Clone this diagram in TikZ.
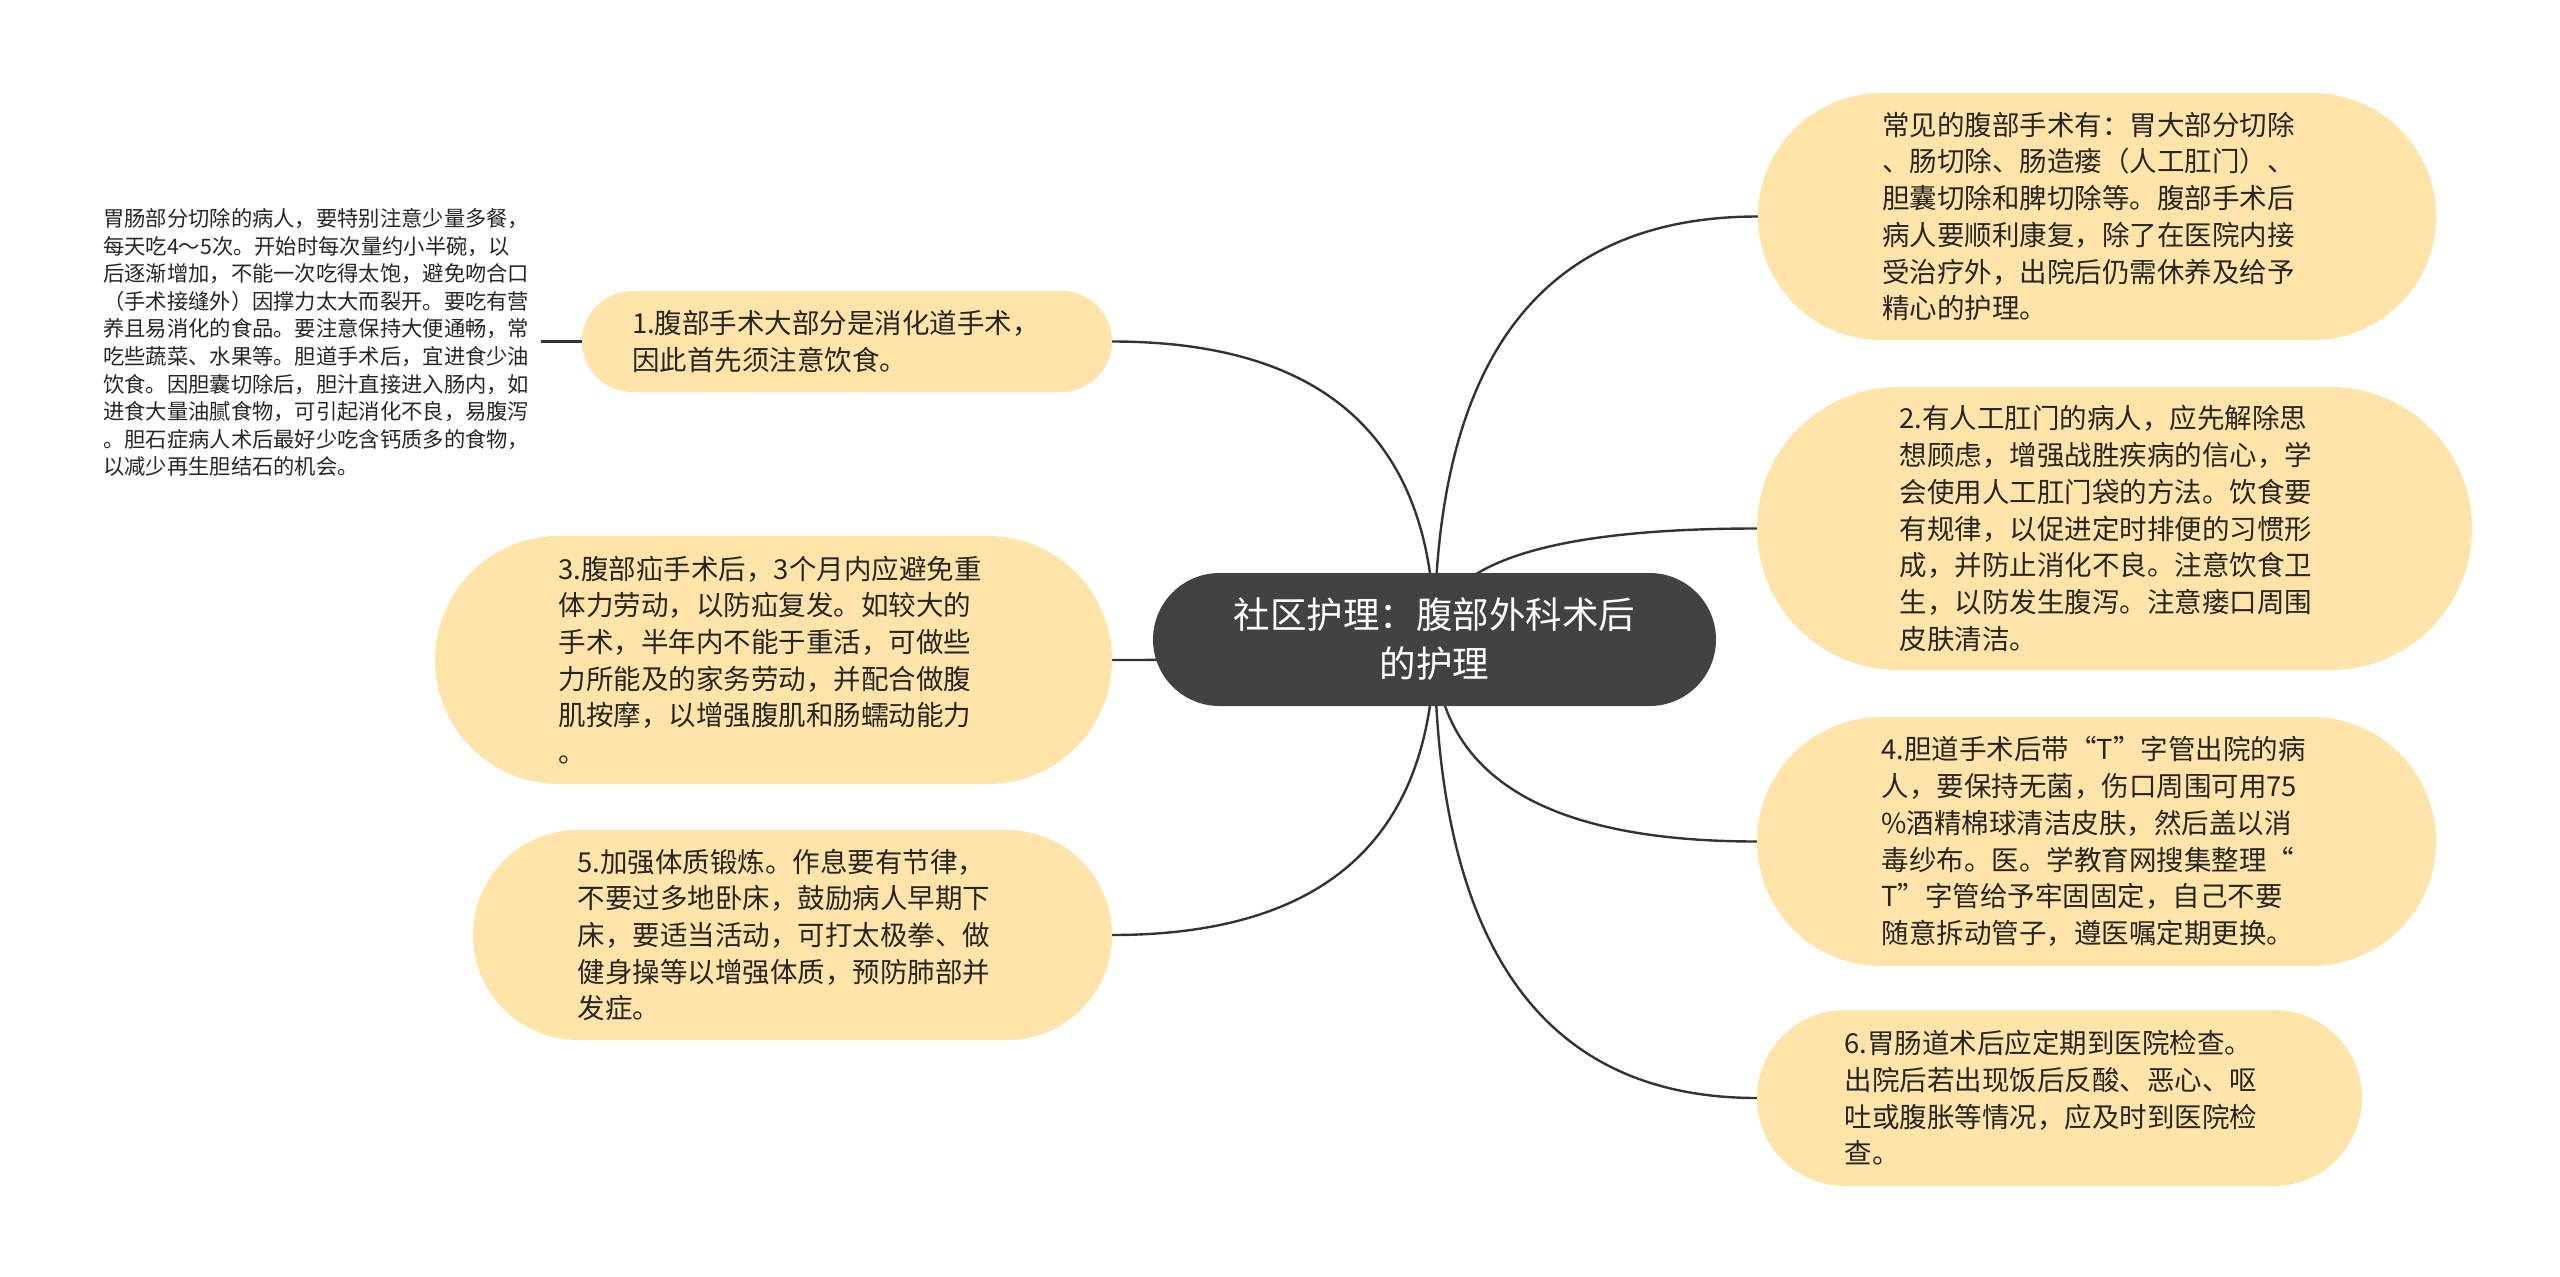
\documentclass[tikz,border=0pt]{standalone}
\usepackage{fontspec}
\newfontfamily\cjk{Noto Sans CJK SC}
\usetikzlibrary{calc}
\definecolor{leaf}{RGB}{254,228,168}
\definecolor{hub}{RGB}{66,66,66}
\definecolor{ink}{RGB}{38,38,38}
\definecolor{wire}{RGB}{51,51,51}
\pgfdeclarelayer{bg}
\pgfsetlayers{bg,main}
\tikzset{
  leafbox/.style={draw=none, fill=leaf, text=ink, align=left, text width=430pt,
    inner sep=0pt, font=\cjk\fontsize{27.5}{36.7}\selectfont},
  hubbox/.style={draw=none, fill=hub, text=white, align=center, inner sep=0pt,
    font=\cjk\fontsize{36.5}{49}\selectfont},
  notebox/.style={text=ink, align=left, text width=430pt, inner sep=8pt,
    font=\cjk\fontsize{21.3}{27.6}\selectfont},
  wirestyle/.style={draw=wire, line width=2.4pt},
}
\newcommand\quadlink[2]{%
  \draw[wirestyle] (#1.center) .. controls ($(#1.center)!0.6667!(#1.center|-#2)$)
    and ($(#2)!0.6667!(#1.center|-#2)$) .. (#2);}
\begin{document}
\begin{tikzpicture}[x=1pt,y=-1pt]
\useasboundingbox (0,0) rectangle (2560,1277);

% central topic
\node[hubbox, minimum width=563pt, minimum height=133pt, rounded corners=66.5pt]
  (c) at (1434.5,639.5) {社区护理：腹部外科术后\\的护理};

% left branches
\node[leafbox, minimum width=530pt, minimum height=101pt, rounded corners=50.5pt]
  (n1) at (847,341.5) {1.腹部手术大部分是消化道手术，\\因此首先须注意饮食。};

\node[leafbox, minimum width=677pt, minimum height=248pt, rounded corners=124pt]
  (n3) at (773.5,660) {3.腹部疝手术后，3个月内应避免重\\体力劳动，以防疝复发。如较大的\\手术，半年内不能于重活，可做些\\力所能及的家务劳动，并配合做腹\\肌按摩，以增强腹肌和肠蠕动能力\\。};

\node[leafbox, minimum width=639pt, minimum height=210pt, rounded corners=105pt]
  (n5) at (792.5,935) {5.加强体质锻炼。作息要有节律，\\不要过多地卧床，鼓励病人早期下\\床，要适当活动，可打太极拳、做\\健身操等以增强体质，预防肺部并\\发症。};

% detached note of branch 1
\node[notebox, anchor=west] (d) at (95,342.5) {胃肠部分切除的病人，要特别注意少量多餐，\\每天吃4～5次。开始时每次量约小半碗，以\\后逐渐增加，不能一次吃得太饱，避免吻合口\\（手术接缝外）因撑力太大而裂开。要吃有营\\养且易消化的食品。要注意保持大便通畅，常\\吃些蔬菜、水果等。胆道手术后，宜进食少油\\饮食。因胆囊切除后，胆汁直接进入肠内，如\\进食大量油腻食物，可引起消化不良，易腹泻\\。胆石症病人术后最好少吃含钙质多的食物，\\以减少再生胆结石的机会。};

% right branches
\node[leafbox, minimum width=678pt, minimum height=247pt, rounded corners=123.5pt]
  (n0) at (2097,216.5) {常见的腹部手术有：胃大部分切除\\、肠切除、肠造瘘（人工肛门）、\\胆囊切除和脾切除等。腹部手术后\\病人要顺利康复，除了在医院内接\\受治疗外，出院后仍需休养及给予\\精心的护理。};

\node[leafbox, minimum width=715pt, minimum height=283pt, rounded corners=141.5pt]
  (n2) at (2114.5,528.5) {2.有人工肛门的病人，应先解除思\\想顾虑，增强战胜疾病的信心，学\\会使用人工肛门袋的方法。饮食要\\有规律，以促进定时排便的习惯形\\成，并防止消化不良。注意饮食卫\\生，以防发生腹泻。注意瘘口周围\\皮肤清洁。};

\node[leafbox, minimum width=679pt, minimum height=249pt, rounded corners=124.5pt]
  (n4) at (2096.5,841.5) {4.胆道手术后带“T”字管出院的病\\人，要保持无菌，伤口周围可用75\\\%酒精棉球清洁皮肤，然后盖以消\\毒纱布。医。学教育网搜集整理“\\T”字管给予牢固固定，自己不要\\随意拆动管子，遵医嘱定期更换。};

\node[leafbox, minimum width=605pt, minimum height=176pt, rounded corners=88pt]
  (n6) at (2059.5,1098) {6.胃肠道术后应定期到医院检查。\\出院后若出现饭后反酸、恶心、呕\\吐或腹胀等情况，应及时到医院检\\查。};

\begin{pgfonlayer}{bg}
  \fill[white] (0,0) rectangle (2560,1277);
  \quadlink{c}{n1.east}
  \quadlink{c}{n3.east}
  \quadlink{c}{n5.east}
  \quadlink{c}{n0.west}
  \quadlink{c}{n2.west}
  \quadlink{c}{n4.west}
  \quadlink{c}{n6.west}
  \draw[wirestyle] (n1.west) -- (n1.west -| d.east);
\end{pgfonlayer}
\end{tikzpicture}
\end{document}
